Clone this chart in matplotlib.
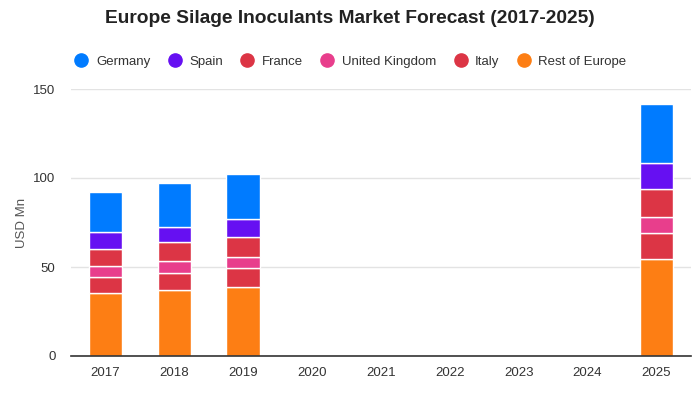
import matplotlib
matplotlib.use("Agg")
import matplotlib.pyplot as plt
from matplotlib.lines import Line2D
import numpy as np

years = ["2017", "2018", "2019", "2020", "2021", "2022", "2023", "2024", "2025"]
rest_of_europe = [35.6, 37.3, 38.9, 0, 0, 0, 0, 0, 54.3]
italy = [9.0, 9.5, 10.7, 0, 0, 0, 0, 0, 14.6]
united_kingdom = [6.1, 6.4, 6.2, 0, 0, 0, 0, 0, 9.0]
france = [9.6, 10.7, 11.2, 0, 0, 0, 0, 0, 16.0]
spain = [9.2, 8.8, 10.1, 0, 0, 0, 0, 0, 14.3]
germany = [22.6, 24.5, 25.1, 0, 0, 0, 0, 0, 33.4]

series = [
    ("Rest of Europe", rest_of_europe, "#fd7e14"),
    ("Italy", italy, "#dc3545"),
    ("United Kingdom", united_kingdom, "#e83e8c"),
    ("France", france, "#dc3545"),
    ("Spain", spain, "#6610f2"),
    ("Germany", germany, "#007bff"),
]

plt.rcParams['font.family'] = ['Liberation Sans', 'DejaVu Sans']
fig = plt.figure(figsize=(7, 4), dpi=100)
ax = fig.add_axes([0.101, 0.11, 0.886, 0.6675])

x = np.arange(len(years))
bottom = np.zeros(len(years))
for name, vals, color in series:
    v = np.array(vals, dtype=float)
    ax.bar(x, v, 0.48, bottom=bottom, color=color, edgecolor="white", linewidth=1, zorder=3)
    bottom += v

ax.set_xlim(-0.5, len(years) - 0.5)
ax.set_ylim(0, 150)
ax.set_yticks([0, 50, 100, 150])
ax.set_xticks(x)
ax.set_xticklabels(years)
ax.tick_params(axis="both", length=0, labelsize=9.5, colors="#333333", pad=8)
ax.tick_params(axis="y", pad=11)
ax.grid(axis="y", color="#e3e3e3", linewidth=1, zorder=0)
for s in ["top", "right", "left"]:
    ax.spines[s].set_visible(False)
ax.spines["bottom"].set_color("#333333")
ax.spines["bottom"].set_linewidth(1.2)
ax.spines["bottom"].set_zorder(4)
ax.set_ylabel("USD Mn", fontsize=9.5, color="#555555", labelpad=4)

fig.text(0.5, 0.953, "Europe Silage Inoculants Market Forecast (2017-2025)",
         ha="center", va="center", fontsize=13.8, fontweight="bold", color="#222222")

legend_order = ["Germany", "Spain", "France", "United Kingdom", "Italy", "Rest of Europe"]
cmap = {n: c for n, _, c in series}
handles = [Line2D([0], [0], marker="o", color="none", markerfacecolor=cmap[n],
                  markeredgecolor=cmap[n], markersize=9.5) for n in legend_order]
fig.legend(handles, legend_order, loc="center", bbox_to_anchor=(0.5, 0.845), ncol=6,
           frameon=False, fontsize=9.5, handletextpad=0.5, columnspacing=1.25,
           labelcolor="#333333", handlelength=1.2)

fig.savefig("out.png", dpi=100)
